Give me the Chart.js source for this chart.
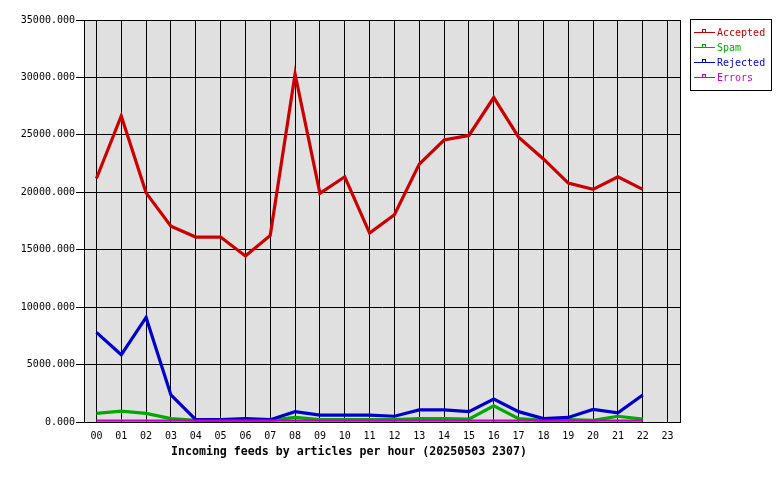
<!DOCTYPE html>
<html>
<head>
<meta charset="utf-8">
<script src="https://cdn.jsdelivr.net/npm/chart.js@4/dist/chart.umd.min.js"></script>
<style>
  body { margin: 0; background: #fff; }
</style>
</head>
<body>
<canvas id="feeds" width="780" height="480"></canvas>
<script>
// hours on the x axis
const hours = ['00','01','02','03','04','05','06','07','08','09','10','11',
               '12','13','14','15','16','17','18','19','20','21','22','23'];

// articles per hour
const accepted = [21200, 26650, 19950, 17050, 16100, 16100, 14450, 16250, 30300, 19900, 21350, 16450,
                  18050, 22450, 24550, 24950, 28250, 24800, 22900, 20800, 20250, 21350, 20250];
const spam     = [750, 950, 750, 300, 150, 150, 150, 150, 400, 200, 200, 200,
                  200, 300, 300, 250, 1400, 300, 150, 200, 150, 500, 250];
const rejected = [7800, 5850, 9100, 2350, 200, 200, 300, 200, 900, 600, 600, 600,
                  500, 1050, 1050, 900, 2000, 900, 300, 400, 1100, 800, 2350];
const errors   = [120, 120, 120, 120, 120, 120, 120, 120, 120, 120, 120, 120,
                  120, 120, 120, 120, 120, 120, 120, 120, 120, 120, 120];

const yTicks = [0, 5000, 10000, 15000, 20000, 25000, 30000, 35000];

const series = [
  { label: 'Accepted', data: accepted, color: '#cc0000', width: 3.2 },
  { label: 'Spam',     data: spam,     color: '#00aa00', width: 3.2 },
  { label: 'Rejected', data: rejected, color: '#0000cc', width: 3.2 },
  { label: 'Errors',   data: errors,   color: '#cc00cc', width: 2.4 }
];

const mono = "'DejaVu Sans Mono', 'Liberation Mono', monospace";

// grey plot background and black frame
const frame = {
  id: 'frame',
  beforeDraw(chart) {
    const { ctx, chartArea: a } = chart;
    ctx.save();
    ctx.fillStyle = '#e0e0e0';
    ctx.fillRect(a.left, a.top, a.right - a.left, a.bottom - a.top);
    ctx.restore();
  },
  afterDraw(chart) {
    const { ctx, chartArea: a } = chart;
    ctx.save();
    ctx.strokeStyle = '#000';
    ctx.lineWidth = 1;
    ctx.strokeRect(Math.round(a.left) + 0.5, Math.round(a.top) + 0.5,
                   Math.round(a.right - a.left), Math.round(a.bottom - a.top));

    // bottom caption
    ctx.fillStyle = '#000';
    ctx.font = 'bold 11.6px ' + mono;
    ctx.textAlign = 'center';
    ctx.textBaseline = 'middle';
    ctx.fillText('Incoming feeds by articles per hour (20250503 2307)', 349, 452);

    // legend box
    ctx.strokeRect(690.5, 19.5, 81, 71);
    ctx.font = '10px ' + mono;
    ctx.textAlign = 'left';
    series.forEach((s, i) => {
      const y = 32 + i * 15;
      ctx.strokeStyle = s.color;
      ctx.beginPath();
      ctx.moveTo(694, y + 0.5);
      ctx.lineTo(715, y + 0.5);
      ctx.stroke();
      ctx.strokeRect(702.5, y - 2.5, 3, 3);
      ctx.fillStyle = s.color;
      ctx.fillText(s.label, 717, y + 1);
    });
    ctx.restore();
  }
};

new Chart(document.getElementById('feeds'), {
  type: 'line',
  data: {
    labels: hours,
    datasets: series.map((s, i) => ({
      label: s.label,
      data: s.data,
      borderColor: s.color,
      backgroundColor: s.color,
      borderWidth: s.width,
      pointRadius: 0,
      tension: 0,
      fill: false,
      order: series.length - i
    }))
  },
  options: {
    responsive: false,
    animation: false,
    layout: { padding: { top: 20, right: 100, left: 0, bottom: 0 } },
    plugins: {
      legend: { display: false },
      tooltip: { enabled: false }
    },
    scales: {
      x: {
        type: 'category',
        offset: true,
        afterFit: s => { s.height = 58; },
        grid: { offset: false, color: '#000', lineWidth: 1, drawTicks: false },
        border: { color: '#000' },
        ticks: {
          color: '#000',
          font: { family: mono, size: 10 },
          padding: 8,
          maxRotation: 0,
          autoSkip: false
        }
      },
      y: {
        min: 0,
        max: 35000,
        afterFit: s => { s.width = 84; },
        afterBuildTicks: s => { s.ticks = yTicks.map(v => ({ value: v })); },
        grid: { color: '#000', lineWidth: 1, tickLength: 8 },
        border: { color: '#000' },
        ticks: {
          color: '#000',
          font: { family: mono, size: 10 },
          padding: 1,
          callback: v => Number(v).toFixed(3)
        }
      }
    }
  },
  plugins: [frame]
});
</script>
</body>
</html>
